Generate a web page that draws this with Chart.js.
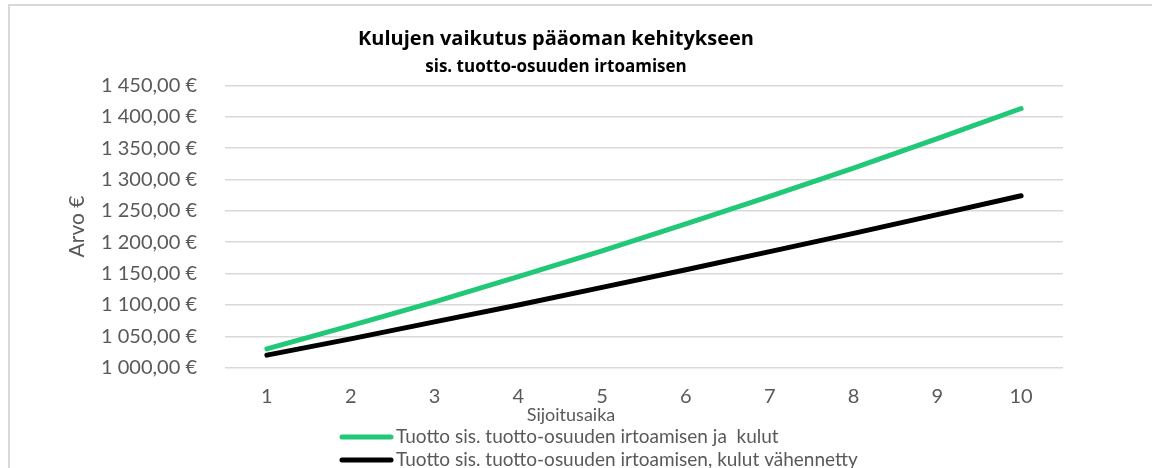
<!DOCTYPE html>
<html>
<head>
<meta charset="utf-8">
<script src="https://cdn.jsdelivr.net/npm/chart.js@4.4.1/dist/chart.umd.min.js"></script>
<style>
  html, body { margin: 0; padding: 0; background: #ffffff; }
  #wrap { width: 1152px; height: 468px; }
</style>
</head>
<body>
<div id="wrap"><canvas id="c" width="1152" height="468"></canvas></div>
<script>
// ---- Data ----
const categories = ['1', '2', '3', '4', '5', '6', '7', '8', '9', '10'];
const seriesLabels = [
  'Tuotto sis. tuotto-osuuden irtoamisen ja  kulut',
  'Tuotto sis. tuotto-osuuden irtoamisen, kulut vähennetty'
];
const withCosts = [1030, 1067, 1105, 1145, 1186, 1229, 1273, 1318, 1365, 1413];
const costsDeducted = [1020, 1046, 1073, 1100, 1128, 1156, 1185, 1214, 1244, 1274];
const yMin = 1000;
const yMax = 1450;
const yStep = 50;
const titleText = 'Kulujen vaikutus pääoman kehitykseen';
const subtitleText = 'sis. tuotto-osuuden irtoamisen';
const xTitleText = 'Sijoitusaika';
const yTitleText = 'Arvo €';

// ---- Styling ----
const FONT = 'Lato, "Open Sans", sans-serif';
const TITLE_FONT = '"Open Sans", Lato, sans-serif';
const GREY = '#595959';
const GREEN = '#20C878';
const BLACK = '#000000';

function fmtEuro(v) {
  const fixed = Number(v).toFixed(2);
  let [intPart, dec] = fixed.split('.');
  intPart = intPart.replace(/\B(?=(\d{3})+(?!\d))/g, ' ');
  return intPart + ',' + dec + ' €';
}

const framePlugin = {
  id: 'frame',
  beforeDraw(chart) {
    const ctx = chart.ctx;
    ctx.save();
    ctx.fillStyle = '#ffffff';
    ctx.fillRect(0, 0, chart.width, chart.height);
    ctx.fillStyle = '#D9D9D9';
    ctx.fillRect(8, 4, chart.width, 2);
    ctx.fillRect(8, 4, 2, chart.height);
    ctx.restore();
  }
};

const bottomTextPlugin = {
  id: 'bottomText',
  afterDraw(chart) {
    const ctx = chart.ctx;
    ctx.save();
    ctx.fillStyle = GREY;
    ctx.textBaseline = 'middle';
    ctx.textAlign = 'center';
    ctx.font = '18px ' + FONT;
    ctx.fillText(xTitleText, 571, 415);
    // legend
    const rows = [437, 460];
    chart.data.datasets.forEach((ds, i) => {
      const y = rows[i];
      ctx.strokeStyle = ds.borderColor;
      ctx.lineWidth = 5;
      ctx.lineCap = 'round';
      ctx.beginPath();
      ctx.moveTo(342, y);
      ctx.lineTo(391, y);
      ctx.stroke();
      ctx.fillStyle = GREY;
      ctx.textAlign = 'left';
      ctx.font = '19px ' + FONT;
      ctx.fillText(ds.label, 396, y);
    });
    ctx.restore();
  }
};

new Chart(document.getElementById('c'), {
  type: 'line',
  data: {
    labels: categories,
    datasets: [
      {
        label: seriesLabels[0],
        data: withCosts,
        borderColor: GREEN,
        backgroundColor: GREEN,
        borderWidth: 5,
        borderCapStyle: 'round',
        borderJoinStyle: 'round',
        pointRadius: 0,
        tension: 0
      },
      {
        label: seriesLabels[1],
        data: costsDeducted,
        borderColor: BLACK,
        backgroundColor: BLACK,
        borderWidth: 5,
        borderCapStyle: 'round',
        borderJoinStyle: 'round',
        pointRadius: 0,
        tension: 0
      }
    ]
  },
  options: {
    responsive: false,
    devicePixelRatio: 1,
    animation: false,
    layout: { padding: { left: 49, right: 89, top: 0, bottom: 60.3 } },
    plugins: {
      legend: { display: false },
      tooltip: { enabled: false },
      title: {
        display: true,
        text: titleText,
        color: '#000000',
        font: { family: TITLE_FONT, size: 20, weight: 'bold', lineHeight: 1.2 },
        padding: { top: 27, bottom: 2.9 }
      },
      subtitle: {
        display: true,
        text: subtitleText,
        color: '#000000',
        font: { family: TITLE_FONT, size: 17, weight: 'bold', lineHeight: 1.2 },
        padding: { top: 2.9, bottom: 8.1 }
      }
    },
    scales: {
      x: {
        type: 'category',
        offset: true,
        grid: { display: false, drawTicks: false },
        border: { display: false },
        ticks: { color: GREY, font: { family: FONT, size: 20 }, padding: 17, maxRotation: 0 },
        afterFit(s) { s.height = 40; }
      },
      y: {
        min: yMin,
        max: yMax,
        ticks: {
          stepSize: yStep,
          color: GREY,
          font: { family: FONT, size: 20 },
          padding: 28,
          callback: (v) => fmtEuro(v)
        },
        grid: { color: '#D9D9D9', lineWidth: 1.5, drawTicks: false },
        border: { display: false },
        title: {
          display: true,
          text: yTitleText,
          color: GREY,
          font: { family: FONT, size: 21, lineHeight: 1.2 },
          padding: { top: 15.4, bottom: 0 }
        },
        afterFit(s) { s.width = 176; }
      }
    }
  },
  plugins: [framePlugin, bottomTextPlugin]
});
</script>
</body>
</html>
